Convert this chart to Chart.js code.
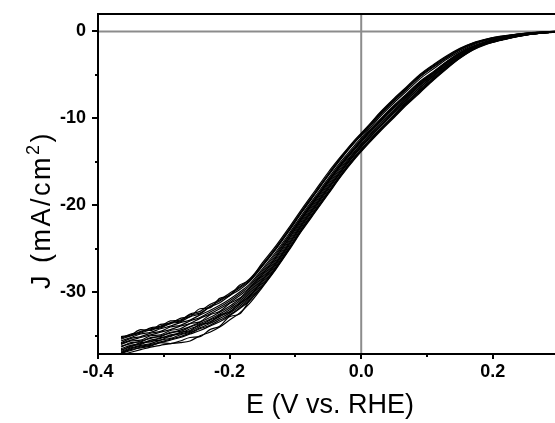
<!DOCTYPE html>
<html>
<head>
<meta charset="utf-8">
<script src="https://cdn.jsdelivr.net/npm/chart.js@4.4.1/dist/chart.umd.min.js"></script>
<style>
  html, body { margin: 0; padding: 0; background: #fff; }
  #wrap { width: 555px; height: 423px; position: relative; }
</style>
</head>
<body>
<div id="wrap"><canvas id="lsvChart" width="555" height="423"></canvas></div>
<script>
// potential grid (V vs. RHE), shared by every cycle
const potential = [-0.365, -0.35, -0.335, -0.32, -0.305, -0.29, -0.275, -0.26, -0.245, -0.23, -0.215, -0.2, -0.185, -0.17, -0.15, -0.13, -0.11, -0.09, -0.07, -0.05, -0.03, -0.01, 0.01, 0.03, 0.05, 0.07, 0.09, 0.11, 0.13, 0.15, 0.17, 0.19, 0.21, 0.23, 0.25, 0.27, 0.295];

// current density (mA/cm2), one array per cycle
const cycle1 = [-35.3, -34.8, -34.6, -34.1, -33.9, -33.3, -33.2, -32.5, -32.2, -31.4, -30.9, -30.1, -29.4, -28.5, -26.8, -24.9, -22.8, -20.6, -18.5, -16.4, -14.4, -12.6, -11.0, -9.3, -7.8, -6.4, -5.0, -3.9, -2.9, -2.0, -1.35, -0.9, -0.6, -0.4, -0.22, -0.1, 0.0];
const cycle2 = [-35.6, -35.2, -34.8, -34.6, -34.2, -33.9, -33.5, -33.2, -32.6, -32.1, -31.5, -30.8, -30.0, -29.1, -27.3, -25.4, -23.3, -21.1, -19.0, -16.9, -14.9, -13.1, -11.4, -9.7, -8.2, -6.8, -5.4, -4.3, -3.2, -2.3, -1.55, -1.05, -0.75, -0.48, -0.28, -0.14, -0.02];
const cycle3 = [-35.9, -35.5, -35.2, -34.9, -34.6, -34.3, -33.9, -33.6, -33.0, -32.5, -31.9, -31.2, -30.4, -29.5, -27.7, -25.8, -23.6, -21.4, -19.3, -17.2, -15.2, -13.4, -11.7, -10.1, -8.6, -7.2, -5.8, -4.7, -3.5, -2.5, -1.75, -1.2, -0.85, -0.55, -0.32, -0.17, -0.04];
const cycle4 = [-36.2, -35.9, -35.6, -35.3, -35.0, -34.7, -34.35, -33.95, -33.45, -32.9, -32.3, -31.6, -30.8, -29.8, -28.0, -26.1, -23.9, -21.6, -19.5, -17.4, -15.4, -13.6, -11.9, -10.3, -8.8, -7.4, -6.0, -4.8, -3.6, -2.6, -1.8, -1.25, -0.9, -0.6, -0.35, -0.2, -0.05];
const cycle5 = [-36.5, -36.1, -35.9, -35.5, -35.3, -34.9, -34.7, -34.2, -33.8, -33.2, -32.7, -32.0, -31.2, -30.2, -28.4, -26.5, -24.3, -22.0, -19.9, -17.8, -15.8, -13.9, -12.2, -10.6, -9.1, -7.6, -6.2, -5.0, -3.8, -2.75, -1.9, -1.3, -0.95, -0.62, -0.37, -0.21, -0.06];
const cycle6 = [-36.8, -36.4, -36.1, -35.9, -35.5, -35.3, -34.9, -34.6, -34.1, -33.6, -33.0, -32.4, -31.6, -30.6, -28.8, -26.9, -24.7, -22.4, -20.3, -18.2, -16.1, -14.2, -12.5, -10.9, -9.4, -8.0, -6.6, -5.3, -4.0, -2.9, -2.0, -1.38, -1.0, -0.66, -0.39, -0.22, -0.07];
const cycle7 = [-37.0, -36.7, -36.3, -36.1, -35.8, -35.5, -35.2, -34.8, -34.4, -33.9, -33.4, -32.7, -31.9, -31.0, -29.2, -27.2, -25.0, -22.7, -20.6, -18.5, -16.4, -14.5, -12.8, -11.2, -9.7, -8.2, -6.8, -5.5, -4.2, -3.05, -2.1, -1.45, -1.05, -0.7, -0.42, -0.24, -0.08];
const cycle8 = [-37.2, -36.9, -36.6, -36.3, -36.1, -35.9, -35.8, -35.6, -35.0, -34.6, -34.0, -33.2, -32.4, -31.3, -29.4, -27.4, -25.2, -22.9, -20.8, -18.7, -16.6, -14.7, -13.0, -11.4, -9.9, -8.4, -7.0, -5.6, -4.3, -3.1, -2.15, -1.5, -1.08, -0.72, -0.43, -0.24, -0.08];
const cycle9 = [-37.0, -36.6, -36.4, -36.2, -35.8, -35.9, -35.6, -35.2, -35.1, -34.3, -33.9, -32.8, -32.5, -31.0, -29.3, -27.3, -25.1, -22.8, -20.7, -18.6, -16.5, -14.6, -12.9, -11.3, -9.8, -8.3, -6.9, -5.5, -4.2, -3.0, -2.05, -1.42, -1.02, -0.68, -0.4, -0.23, -0.08];
const cycle10 = [-35.1, -34.9, -34.3, -34.4, -33.7, -33.6, -33.0, -32.8, -31.9, -31.8, -30.7, -30.4, -29.2, -28.6, -26.6, -24.7, -22.6, -20.4, -18.3, -16.2, -14.3, -12.5, -10.9, -9.2, -7.7, -6.3, -4.9, -3.8, -2.8, -1.95, -1.3, -0.88, -0.58, -0.38, -0.2, -0.09, 0.0];
const cycle11 = [-36.0, -35.6, -35.5, -35.0, -34.9, -34.4, -34.2, -33.6, -33.4, -32.6, -32.2, -31.3, -30.7, -29.6, -27.9, -26.0, -23.8, -21.5, -19.4, -17.3, -15.3, -13.5, -11.8, -10.2, -8.7, -7.3, -5.9, -4.75, -3.55, -2.55, -1.78, -1.22, -0.88, -0.58, -0.34, -0.18, -0.05];
const cycle12 = [-36.6, -36.3, -35.8, -35.7, -35.2, -35.1, -34.6, -34.4, -33.7, -33.5, -32.6, -32.3, -31.3, -30.5, -28.6, -26.7, -24.5, -22.2, -20.1, -18.0, -16.0, -14.1, -12.4, -10.8, -9.3, -7.8, -6.4, -5.15, -3.9, -2.85, -1.95, -1.35, -0.97, -0.64, -0.38, -0.21, -0.06];
const cycle13 = [-35.4, -35.0, -34.7, -34.3, -34.1, -33.6, -33.4, -32.8, -32.5, -31.7, -31.2, -30.4, -29.7, -28.8, -27.0, -25.1, -23.0, -20.8, -18.7, -16.6, -14.6, -12.8, -11.2, -9.5, -8.0, -6.6, -5.2, -4.1, -3.05, -2.15, -1.45, -0.98, -0.68, -0.44, -0.25, -0.12, -0.01];
const cycle14 = [-35.8, -35.3, -35.1, -34.7, -34.5, -34.0, -33.8, -33.3, -32.9, -32.3, -31.7, -31.0, -30.2, -29.3, -27.5, -25.6, -23.5, -21.3, -19.2, -17.1, -15.1, -13.3, -11.6, -10.0, -8.5, -7.1, -5.7, -4.6, -3.45, -2.45, -1.7, -1.15, -0.82, -0.53, -0.31, -0.16, -0.03];
const cycle15 = [-36.7, -36.2, -36.0, -35.6, -35.5, -35.0, -34.8, -34.5, -33.9, -33.4, -32.8, -32.2, -31.4, -30.4, -28.6, -26.7, -24.5, -22.2, -20.1, -18.0, -16.0, -14.1, -12.4, -10.8, -9.2, -7.8, -6.4, -5.1, -3.9, -2.82, -1.95, -1.34, -0.97, -0.64, -0.38, -0.21, -0.06];
const cycle16 = [-36.9, -36.5, -36.2, -36.0, -35.7, -35.4, -35.1, -34.7, -34.2, -33.8, -33.2, -32.6, -31.8, -30.8, -29.0, -27.1, -24.9, -22.6, -20.5, -18.4, -16.3, -14.4, -12.7, -11.1, -9.6, -8.1, -6.7, -5.4, -4.1, -3.0, -2.05, -1.42, -1.03, -0.68, -0.41, -0.23, -0.08];
const cycle17 = [-35.2, -35.0, -34.5, -34.2, -34.0, -33.5, -33.3, -32.6, -32.4, -31.6, -31.0, -30.3, -29.5, -28.7, -26.9, -25.0, -22.9, -20.7, -18.6, -16.5, -14.5, -12.7, -11.1, -9.4, -7.9, -6.5, -5.1, -4.0, -3.0, -2.1, -1.4, -0.95, -0.65, -0.42, -0.23, -0.11, 0.0];
const cycle18 = [-36.3, -35.8, -35.7, -35.2, -35.1, -34.6, -34.5, -34.0, -33.6, -33.1, -32.5, -31.8, -31.0, -30.0, -28.2, -26.3, -24.1, -21.8, -19.7, -17.6, -15.6, -13.8, -12.1, -10.5, -9.0, -7.5, -6.1, -4.9, -3.7, -2.7, -1.85, -1.28, -0.92, -0.61, -0.36, -0.2, -0.05];
const cycles = [cycle1, cycle2, cycle3, cycle4, cycle5, cycle6, cycle7, cycle8, cycle9, cycle10, cycle11, cycle12, cycle13, cycle14, cycle15, cycle16, cycle17, cycle18];

// axis ticks
const xMajorTicks = [-0.4, -0.2, 0.0, 0.2];
const xMinorTicks = [-0.3, -0.1, 0.1];
const yMajorTicks = [-30, -20, -10, 0];
const yMinorTicks = [-35, -25, -15, -5];

const xTitle = "E (V vs. RHE)";
const yTitleParts = ["J (mA/cm", "2", ")"];

const datasets = cycles.map((j, i) => ({
  label: "cycle " + (i + 1),
  data: potential.map((e, k) => ({ x: e, y: j[k] })),
  borderColor: "#000",
  borderWidth: 1.2,
  pointRadius: 0,
  fill: false,
  cubicInterpolationMode: "monotone",
}));

// gray zero lines, black frame, tick marks and axis titles
const framePlugin = {
  id: "frame",
  beforeDatasetsDraw(chart) {
    const { ctx, chartArea, scales } = chart;
    const x0 = scales.x.getPixelForValue(0);
    const y0 = scales.y.getPixelForValue(0);
    ctx.save();
    ctx.strokeStyle = "#8c8c8c";
    ctx.lineWidth = 2;
    ctx.beginPath();
    ctx.moveTo(chartArea.left, y0);
    ctx.lineTo(chartArea.right, y0);
    ctx.moveTo(x0, chartArea.top);
    ctx.lineTo(x0, chartArea.bottom);
    ctx.stroke();
    ctx.restore();
  },
  afterDraw(chart) {
    const { ctx, chartArea, scales } = chart;
    const { left, right, top, bottom } = chartArea;
    ctx.save();
    ctx.strokeStyle = "#000";
    ctx.lineWidth = 2;
    ctx.beginPath();
    ctx.moveTo(left, top);
    ctx.lineTo(right, top);
    ctx.moveTo(left, top - 1);
    ctx.lineTo(left, bottom + 1);
    ctx.moveTo(left - 1, bottom);
    ctx.lineTo(right, bottom);
    ctx.stroke();

    ctx.beginPath();
    xMajorTicks.forEach((v) => {
      const px = Math.round(scales.x.getPixelForValue(v));
      ctx.moveTo(px, bottom);
      ctx.lineTo(px, bottom + 5);
    });
    xMinorTicks.forEach((v) => {
      const px = Math.round(scales.x.getPixelForValue(v));
      ctx.moveTo(px, bottom);
      ctx.lineTo(px, bottom + 3);
    });
    yMajorTicks.forEach((v) => {
      const py = Math.round(scales.y.getPixelForValue(v));
      ctx.moveTo(left, py);
      ctx.lineTo(left - 6, py);
    });
    yMinorTicks.forEach((v) => {
      const py = Math.round(scales.y.getPixelForValue(v));
      ctx.moveTo(left, py);
      ctx.lineTo(left - 3, py);
    });
    ctx.stroke();

    // x title
    ctx.fillStyle = "#000";
    ctx.font = '27px "Liberation Sans", Arial, sans-serif';
    ctx.textAlign = "center";
    ctx.textBaseline = "alphabetic";
    ctx.fillText(xTitle, 330, 413);

    // y title with superscript
    ctx.translate(50, 210);
    ctx.rotate(-Math.PI / 2);
    ctx.textAlign = "left";
    ctx.letterSpacing = "2.5px";
    const mainFont = '27px "Liberation Sans", Arial, sans-serif';
    const supFont = '18px "Liberation Sans", Arial, sans-serif';
    ctx.font = mainFont;
    const w0 = ctx.measureText(yTitleParts[0]).width;
    const w2 = ctx.measureText(yTitleParts[2]).width;
    ctx.font = supFont;
    const w1 = ctx.measureText(yTitleParts[1]).width;
    let cx = -(w0 + w1 + w2) / 2;
    ctx.font = mainFont;
    ctx.fillText(yTitleParts[0], cx, 0);
    cx += w0;
    ctx.font = supFont;
    ctx.fillText(yTitleParts[1], cx, -11);
    cx += w1;
    ctx.font = mainFont;
    ctx.fillText(yTitleParts[2], cx, 0);
    ctx.restore();
  },
};

const ctx = document.getElementById("lsvChart").getContext("2d");

const chart = new Chart(ctx, {
  type: "line",
  data: { datasets: datasets },
  options: {
    responsive: false,
    animation: false,
    layout: { padding: { top: 14, right: 0, left: 0, bottom: 0 } },
    plugins: {
      legend: { display: false },
      tooltip: { enabled: false },
    },
    scales: {
      x: {
        type: "linear",
        min: -0.4,
        max: 0.2945,
        grid: { display: false, drawTicks: false },
        border: { display: false },
        afterBuildTicks: (axis) => {
          axis.ticks = xMajorTicks.map((v) => ({ value: v }));
        },
        afterFit: (axis) => {
          axis.height = 69;
          axis.paddingLeft = 0;
          axis.paddingRight = 0;
        },
        ticks: {
          autoSkip: false,
          maxRotation: 0,
          padding: 7,
          color: "#000",
          font: { family: '"Liberation Sans", Arial, sans-serif', size: 18, weight: "bold" },
          callback: (v) => Number(v).toFixed(1),
        },
      },
      y: {
        type: "linear",
        min: -37.1,
        max: 2.0,
        grid: { display: false, drawTicks: false },
        border: { display: false },
        afterBuildTicks: (axis) => {
          axis.ticks = yMajorTicks.map((v) => ({ value: v }));
        },
        afterFit: (axis) => {
          axis.width = 98;
          axis.paddingTop = 0;
          axis.paddingBottom = 0;
        },
        ticks: {
          autoSkip: false,
          padding: 12,
          color: "#000",
          font: { family: '"Liberation Sans", Arial, sans-serif', size: 18, weight: "bold" },
          callback: (v) => String(v),
        },
      },
    },
  },
  plugins: [framePlugin],
});
</script>
</body>
</html>
